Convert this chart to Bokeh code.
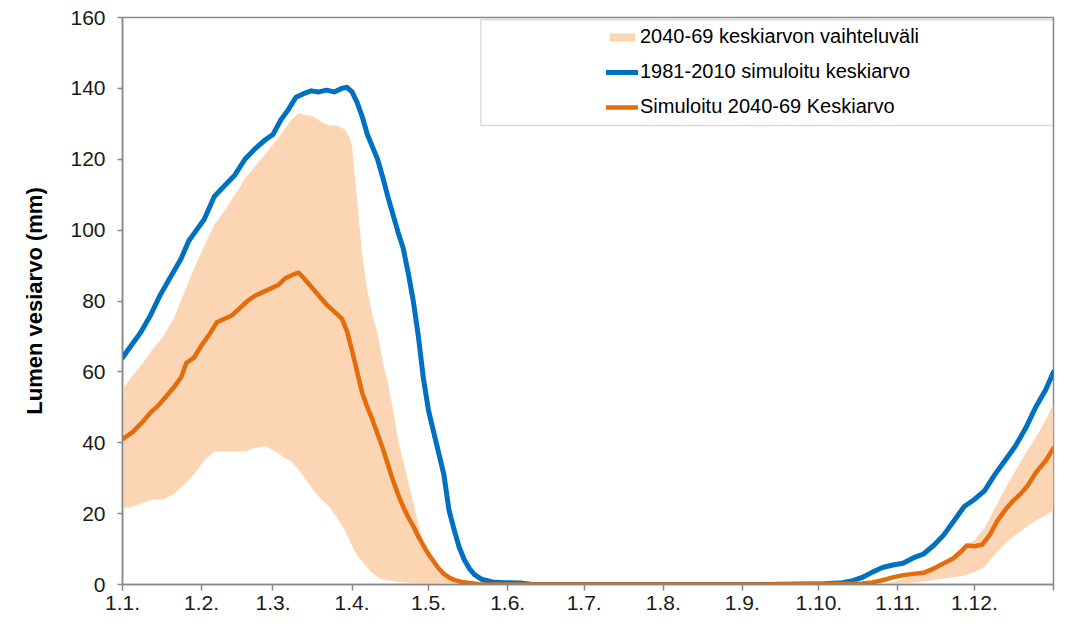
from bokeh.plotting import figure
from bokeh.models import FixedTicker, Legend, LegendItem, BoxAnnotation, Range1d
from bokeh.embed import file_html
from bokeh.resources import INLINE

# ---- data (day of year, 0 = 1.1.) ----
tick_days = [0, 31, 59, 90, 120, 151, 181, 212, 243, 273, 304, 334, 365]
tick_labels = ["1.1.", "1.2.", "1.3.", "1.4.", "1.5.", "1.6.", "1.7.", "1.8.",
               "1.9.", "1.10.", "1.11.", "1.12.", ""]

blue_days = [0, 3, 7, 11, 15, 19, 23, 26, 29, 32, 36, 40, 44, 48, 52, 56, 59, 62,
             65, 68, 71, 74, 77, 80, 83, 86, 88, 90, 92, 94, 96, 98, 100, 102, 104,
             106, 108, 110, 112, 114, 116, 118, 120, 122, 124, 126, 128, 130, 132,
             134, 136, 138, 141, 145, 150, 156, 160, 165, 200, 250, 275, 282, 286,
             290, 294, 298, 302, 306, 310, 314, 318, 322, 326, 330, 334, 338, 342,
             346, 350, 354, 358, 362, 365]
blue_vals = [64, 67, 71, 76, 82, 87, 92, 97, 100, 103, 109.5, 112.5, 115.5, 120, 123,
             125.5, 127, 131, 134, 137.5, 138.5, 139.3, 139, 139.5, 139, 140, 140.3,
             139, 136, 132, 127, 123.5, 120, 115, 109.5, 104.5, 99.5, 95, 88, 80, 70,
             58, 49, 43, 37, 31, 21, 15.5, 10.5, 7, 4.5, 2.8, 1.4, 0.7, 0.5, 0.4, 0.1,
             0, 0, 0, 0.2, 0.5, 1, 2, 3.5, 4.8, 5.5, 6, 7.5, 8.6, 11, 14, 18, 22, 24,
             26.5, 31, 35, 39, 44, 50, 55, 60]

orange_days = [0, 4, 8, 11, 14, 17, 20, 23, 25, 28, 31, 34, 37, 40, 43, 46, 49, 52,
               55, 58, 61, 64, 67, 69, 71, 74, 77, 80, 83, 86, 88, 90, 92, 94, 96, 98,
               100, 102, 104, 106, 108, 110, 112, 114, 116, 118, 120, 122, 124, 126,
               128, 130, 133, 136, 140, 145, 200, 250, 290, 294, 298, 302, 306, 310,
               314, 318, 322, 326, 329, 331, 334, 337, 340, 343, 346, 349, 352, 355,
               358, 362, 365]
orange_vals = [41, 43, 46, 48.5, 50.5, 53, 55.5, 58.5, 62.5, 64, 67.5, 70.5, 74, 75,
               76, 78, 80, 81.5, 82.5, 83.5, 84.5, 86.5, 87.5, 88, 86.5, 84, 81.5, 79,
               77, 75, 71.5, 66, 60, 54, 50, 46.5, 42.5, 38.5, 34, 29.5, 25.5, 22, 19,
               16.5, 13.5, 11, 8.5, 6.5, 4.5, 3, 2, 1.3, 0.7, 0.4, 0.1, 0, 0, 0, 0.3,
               0.6, 1.2, 2, 2.6, 3, 3.3, 4.5, 6, 7.5, 9.5, 11, 10.8, 11.2, 14, 18, 21,
               23.5, 25.5, 28, 31.5, 35, 38.5]

band_days = [0, 4, 8, 12, 16, 20, 24, 28, 32, 36, 40, 44, 48, 52, 56, 60, 63, 66, 69,
             72, 75, 78, 81, 84, 87, 89, 90, 91, 92, 94, 96, 98, 100, 102, 104, 106,
             108, 110, 112, 114, 116, 118, 120, 122, 124, 126, 128, 130, 133, 136,
             140, 145, 300, 310, 315, 320, 325, 330, 334, 338, 342, 346, 350, 354,
             358, 362, 365]
band_upper = [55, 59, 62.5, 66.5, 70, 75, 82, 89, 95.5, 101.5, 105.5, 110, 114.5, 118,
              121.5, 125, 128, 131, 133, 132.5, 132, 130.5, 129.5, 129.5, 128.5, 126.3,
              123.5, 116, 108.5, 93, 83, 76, 71, 63, 57, 49.5, 41, 35, 29, 23, 17, 12,
              8, 5.5, 3.8, 2.6, 1.8, 1, 0.6, 0.3, 0.1, 0, 0.3, 2.5, 3.5, 5.5, 8, 11,
              12.5, 16, 21.5, 27, 32, 37, 41.5, 46.5, 51]
band_lower = [21.5, 22, 23, 24, 24, 25.5, 28, 31, 35, 37.5, 37.5, 37.5, 37.5, 38.5, 39,
              37.5, 36, 34.8, 32.5, 29.5, 26.5, 24, 22, 19, 15.5, 12.5, 11, 9.5, 8.2,
              6.5, 4.8, 3.2, 2.2, 1.5, 1.2, 1, 0.8, 0.6, 0.5, 0.4, 0.3, 0.2, 0.1, 0,
              0, 0, 0, 0, 0, 0, 0, 0, 0, 0.5, 1, 1.5, 2, 2.5, 3.5, 5, 8.5, 11.5, 14,
              16, 18, 19.5, 21]

labels = ["2040-69 keskiarvon vaihteluväli", "1981-2010 simuloitu keskiarvo",
          "Simuloitu 2040-69 Keskiarvo"]

BLUE = "#0070C0"
ORANGE = "#E46C0A"
BAND = "#FCD5B5"
GRAY = "#898989"
FONT = "Liberation Sans"

p = figure(width=1058, height=612, output_backend="svg", toolbar_location=None,
           x_range=Range1d(0, 365), y_range=Range1d(0, 160),
           min_border_left=122, min_border_top=17, min_border_right=5,
           min_border_bottom=10)
p.background_fill_color = "white"
p.border_fill_color = "white"
p.outline_line_color = GRAY
p.outline_line_width = 1.5
p.xgrid.visible = False
p.ygrid.visible = False

r_band = p.varea(x=band_days, y1=band_lower, y2=band_upper, fill_color=BAND,
                 fill_alpha=1.0)
r_blue = p.line(blue_days, blue_vals, line_color=BLUE, line_width=5,
                line_cap="round", line_join="round")
r_orange = p.line(orange_days, orange_vals, line_color=ORANGE, line_width=4.5,
                  line_cap="round", line_join="round")

# axes
p.xaxis.ticker = FixedTicker(ticks=tick_days)
p.xaxis.major_label_overrides = {d: l for d, l in zip(tick_days, tick_labels)}
p.xaxis.minor_tick_line_color = None
p.xaxis.major_tick_out = 6
p.xaxis.major_tick_in = 0
p.xaxis.major_label_standoff = 5
p.xaxis.major_label_text_font = FONT
p.xaxis.major_label_text_font_size = "21px"
p.xaxis.major_label_text_color = "#1a1a1a"

p.yaxis.ticker = FixedTicker(ticks=list(range(0, 161, 20)))
p.yaxis.minor_tick_line_color = None
p.yaxis.major_tick_out = 5
p.yaxis.major_tick_in = 0
p.yaxis.major_label_standoff = 12
p.yaxis.major_label_text_font = FONT
p.yaxis.major_label_text_font_size = "21px"
p.yaxis.major_label_text_color = "#1a1a1a"
p.yaxis.axis_label = "Lumen vesiarvo (mm)"
p.yaxis.axis_label_text_font = FONT
p.yaxis.axis_label_text_font_size = "22px"
p.yaxis.axis_label_text_font_style = "bold"
p.yaxis.axis_label_text_color = "#000000"
p.yaxis.axis_label_standoff = 20

for ax in (p.xaxis, p.yaxis):
    ax.axis_line_color = GRAY
    ax.axis_line_width = 1.5
    ax.major_tick_line_color = GRAY
    ax.major_tick_line_width = 1.5

# legend frame (top-right box)
p.add_layout(BoxAnnotation(left=140.5, right=365, bottom=129.5, top=159.4,
                           fill_alpha=0, line_color=GRAY, line_width=1.5,
                           level="overlay"))

legend = Legend(items=[LegendItem(label=labels[0], renderers=[r_band]),
                       LegendItem(label=labels[1], renderers=[r_blue]),
                       LegendItem(label=labels[2], renderers=[r_orange])],
                location=(480, 462), orientation="vertical",
                glyph_width=32, glyph_height=10, label_height=20, spacing=12,
                padding=4, label_standoff=2, margin=0,
                label_text_font=FONT, label_text_font_size="20px",
                label_text_color="#000000",
                border_line_alpha=0, background_fill_alpha=0)
p.add_layout(legend, "center")

open("out.html", "w").write(file_html(p, INLINE))
